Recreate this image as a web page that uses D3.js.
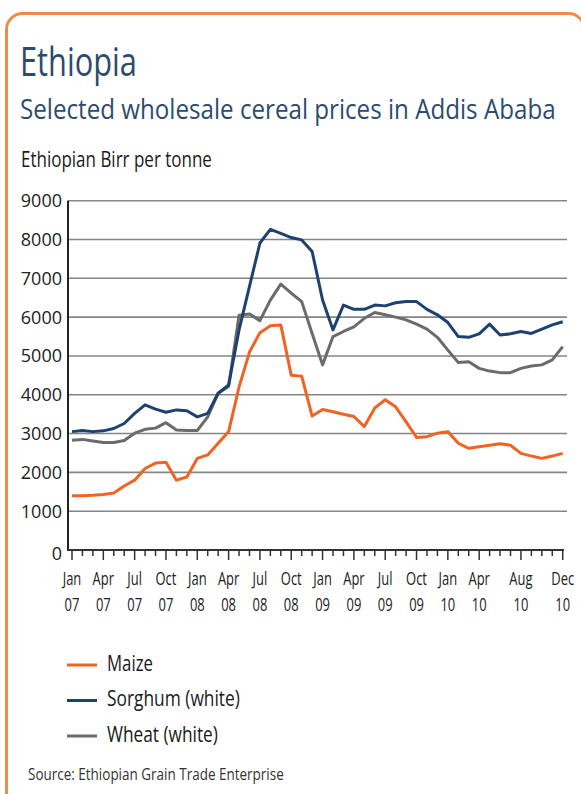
<!DOCTYPE html>
<html>
<head>
<meta charset="utf-8">
<script src="https://cdn.jsdelivr.net/npm/d3@7"></script>
<style>
  body { margin: 0; background: #fff; }
  svg text { font-family: "Open Sans", sans-serif; }
</style>
</head>
<body>
<div id="chart"></div>
<script>
// monthly prices, Jan 2007 - Dec 2010 (Birr per tonne)
const months = d3.range(48);
const maize = [1400, 1400, 1410, 1430, 1470, 1650, 1800, 2100, 2240, 2260, 1800, 1880,
  2360, 2450, 2750, 3050, 4200, 5100, 5600, 5780, 5800, 4500, 4480, 3450,
  3620, 3560, 3500, 3440, 3180, 3660, 3870, 3690, 3300, 2900, 2920, 3010,
  3050, 2750, 2620, 2660, 2700, 2740, 2700, 2490, 2420, 2360, 2420, 2490];
const sorghum = [3050, 3080, 3050, 3070, 3130, 3260, 3520, 3740, 3630, 3550, 3610, 3590,
  3430, 3520, 4040, 4250, 5670, 6790, 7910, 8260, 8160, 8050, 7990, 7690,
  6440, 5670, 6310, 6200, 6200, 6310, 6290, 6370, 6400, 6400, 6200, 6060,
  5860, 5500, 5480, 5570, 5820, 5540, 5570, 5630, 5580, 5690, 5800, 5880];
const wheat = [2830, 2850, 2810, 2770, 2770, 2820, 3010, 3110, 3140, 3280, 3090, 3080,
  3080, 3430, 4040, 4210, 6050, 6080, 5910, 6440, 6850, 6620, 6400, 5580,
  4770, 5500, 5630, 5750, 5970, 6120, 6060, 6000, 5930, 5820, 5690, 5480,
  5150, 4830, 4850, 4680, 4610, 4570, 4570, 4680, 4740, 4770, 4900, 5240];

const yTicks = [0, 1000, 2000, 3000, 4000, 5000, 6000, 7000, 8000, 9000];
const labelMonths = [0, 3, 6, 9, 12, 15, 18, 21, 24, 27, 30, 33, 36, 39, 43, 47];
const labelNames = ["Jan", "Apr", "Jul", "Oct", "Jan", "Apr", "Jul", "Oct",
  "Jan", "Apr", "Jul", "Oct", "Jan", "Apr", "Aug", "Dec"];
const labelYears = ["07", "07", "07", "07", "08", "08", "08", "08",
  "09", "09", "09", "09", "10", "10", "10", "10"];

const seriesNames = ["Maize", "Sorghum (white)", "Wheat (white)"];
const seriesColors = ["#ef6424", "#1f4170", "#6b6b6b"];

//squeeze text horizontally (the original font is a condensed one).
//k is a factor, or target width if wide is set
function squeeze(sel, k, wide) {
  sel.each(function(d, i) {
    let t = d3.select(this);
    let x = +t.attr("x"), y = +t.attr("y");
    let len = this.getComputedTextLength();
    let f = wide ? wide[i] / len : k;
    t.attr("x", 0).attr("y", 0)
      .attr("transform", "translate(" + x + "," + y + ") scale(" + f + ",1)");
  });
}

class PriceChart {

  constructor() {
    this.svg = d3.select("#chart").append("svg")
      .attr("width", 581)
      .attr("height", 794);

    //orange frame, only left and top are visible
    this.svg.append("rect")
      .attr("x", 6.5).attr("y", 13.5)
      .attr("width", 578).attr("height", 800)
      .attr("rx", 16)
      .attr("fill", "none")
      .attr("stroke", "#f0884f")
      .attr("stroke-width", 3);

    this.x = d3.scaleLinear().domain([0, 47]).range([72, 562.7]);
    this.y = d3.scaleLinear().domain([0, 9000]).range([550, 200.7]);
  }

  drawTitles() {
    let svg = this.svg;
    let t1 = svg.append("text").attr("x", 20).attr("y", 76)
      .attr("font-size", 40).attr("fill", "#2d4b6e")
      .text("Ethiopia");
    squeeze(t1, 0, [117]);
    let t2 = svg.append("text").attr("x", 20).attr("y", 119)
      .attr("font-size", 27).attr("fill", "#2d4b6e")
      .text("Selected wholesale cereal prices in Addis Ababa");
    squeeze(t2, 0, [536]);
    let t3 = svg.append("text").attr("x", 21).attr("y", 166.5)
      .attr("font-size", 21).attr("fill", "#1a1a1a")
      .text("Ethiopian Birr per tonne");
    squeeze(t3, 0, [191]);
  }

  drawAxes() {
    let x = this.x, y = this.y;
    let g = this.svg.append("g");

    //gridlines
    g.selectAll("line.grid")
      .data(yTicks.filter(d => d > 0))
      .enter().append("line")
      .attr("class", "grid")
      .attr("x1", 68).attr("x2", 567)
      .attr("y1", d => y(d)).attr("y2", d => y(d))
      .attr("stroke", "#858585")
      .attr("stroke-width", 1.6);

    g.selectAll("text.ylab")
      .data(yTicks)
      .enter().append("text")
      .attr("class", "ylab")
      .attr("x", 62)
      .attr("y", d => y(d) + (d == 0 ? 9.5 : 6.5))
      .attr("text-anchor", "end")
      .attr("font-size", 18)
      .attr("fill", "#222")
      .text(d => d);

    //month ticks
    g.selectAll("line.tick")
      .data(months)
      .enter().append("line")
      .attr("class", "tick")
      .attr("x1", d => x(d)).attr("x2", d => x(d))
      .attr("y1", 550)
      .attr("y2", d => labelMonths.includes(d) ? 560 : 556)
      .attr("stroke", "#333")
      .attr("stroke-width", 1.5);

    // axis lines
    g.append("line").attr("x1", 68).attr("x2", 68).attr("y1", y(9000)).attr("y2", 551)
      .attr("stroke", "#222").attr("stroke-width", 2);
    g.append("line").attr("x1", 67).attr("x2", 564).attr("y1", 550).attr("y2", 550)
      .attr("stroke", "#333").attr("stroke-width", 2);

    let names = g.selectAll("text.xlab")
      .data(labelMonths)
      .enter().append("text")
      .attr("class", "xlab")
      .attr("x", d => x(d))
      .attr("y", 585)
      .attr("text-anchor", "middle")
      .attr("font-size", 18)
      .attr("fill", "#222")
      .text((d, i) => labelNames[i]);
    squeeze(names, 0.72);

    let years = g.selectAll("text.xyear")
      .data(labelMonths)
      .enter().append("text")
      .attr("class", "xyear")
      .attr("x", d => x(d))
      .attr("y", 611)
      .attr("text-anchor", "middle")
      .attr("font-size", 18)
      .attr("fill", "#222")
      .text((d, i) => labelYears[i]);
    squeeze(years, 0.72);
  }

  drawLines() {
    let x = this.x, y = this.y;
    let line = d3.line()
      .x((d, i) => x(months[i]))
      .y(d => y(d));

    let all = [maize, wheat, sorghum];
    let colors = [seriesColors[0], seriesColors[2], seriesColors[1]];
    this.svg.append("g").selectAll("path")
      .data(all)
      .enter().append("path")
      .attr("d", d => line(d))
      .attr("fill", "none")
      .attr("stroke", (d, i) => colors[i])
      .attr("stroke-width", 3)
      .attr("stroke-linejoin", "round");
  }

  drawLegend() {
    let widths = [46, 133, 111];
    let leg = this.svg.append("g").selectAll("g")
      .data(seriesNames)
      .enter().append("g")
      .attr("transform", (d, i) => "translate(0," + (670.5 + i * 35.5) + ")");

    leg.append("line")
      .attr("x1", 67).attr("x2", 97)
      .attr("y1", -5.5).attr("y2", -5.5)
      .attr("stroke", (d, i) => seriesColors[i])
      .attr("stroke-width", 3);

    let txt = leg.append("text")
      .attr("x", 107).attr("y", 0)
      .attr("font-size", 21)
      .attr("fill", "#1a1a1a")
      .text(d => d);
    squeeze(txt, 0, widths);

    let src = this.svg.append("text").attr("x", 28).attr("y", 780)
      .attr("font-size", 16).attr("fill", "#333")
      .text("Source: Ethiopian Grain Trade Enterprise");
    squeeze(src, 0, [256]);
  }
}

let chart = new PriceChart();
chart.drawTitles();
chart.drawAxes();
chart.drawLines();
chart.drawLegend();
</script>
</body>
</html>
